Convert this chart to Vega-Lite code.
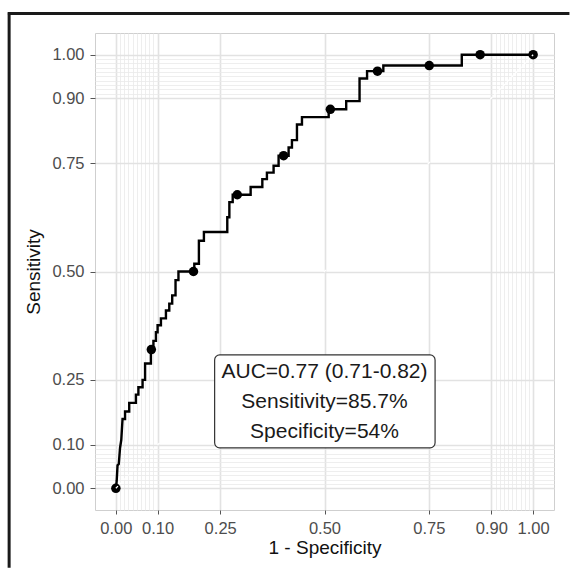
{
  "$schema": "https://vega.github.io/schema/vega-lite/v6.json",
  "width": 459,
  "height": 477,
  "autosize": {"type": "none"},
  "padding": {"left": 95, "top": 33, "right": 16, "bottom": 58},
  "background": "white",
  "config": {
    "view": {"stroke": "#CFCFCF", "strokeWidth": 1},
    "font": "Liberation Sans"
  },
  "resolve": {"axis": {"x": "independent", "y": "independent"}},
  "datasets": {
    "curve": [
      {"step": 1, "fpr": 0, "tpr": 0},
      {"step": 2, "fpr": 0.002, "tpr": 0.017},
      {"step": 3, "fpr": 0.004, "tpr": 0.053},
      {"step": 4, "fpr": 0.007, "tpr": 0.056},
      {"step": 5, "fpr": 0.010, "tpr": 0.093},
      {"step": 6, "fpr": 0.013, "tpr": 0.112},
      {"step": 7, "fpr": 0.016, "tpr": 0.16},
      {"step": 8, "fpr": 0.022, "tpr": 0.16},
      {"step": 9, "fpr": 0.022, "tpr": 0.177},
      {"step": 10, "fpr": 0.032, "tpr": 0.177},
      {"step": 11, "fpr": 0.032, "tpr": 0.197},
      {"step": 12, "fpr": 0.048, "tpr": 0.197},
      {"step": 13, "fpr": 0.048, "tpr": 0.216},
      {"step": 14, "fpr": 0.054, "tpr": 0.216},
      {"step": 15, "fpr": 0.054, "tpr": 0.233},
      {"step": 16, "fpr": 0.064, "tpr": 0.233},
      {"step": 17, "fpr": 0.064, "tpr": 0.25},
      {"step": 18, "fpr": 0.07, "tpr": 0.25},
      {"step": 19, "fpr": 0.07, "tpr": 0.288},
      {"step": 20, "fpr": 0.084, "tpr": 0.288},
      {"step": 21, "fpr": 0.084, "tpr": 0.32},
      {"step": 22, "fpr": 0.09, "tpr": 0.32},
      {"step": 23, "fpr": 0.09, "tpr": 0.34},
      {"step": 24, "fpr": 0.096, "tpr": 0.34},
      {"step": 25, "fpr": 0.096, "tpr": 0.36},
      {"step": 26, "fpr": 0.1, "tpr": 0.36},
      {"step": 27, "fpr": 0.1, "tpr": 0.376},
      {"step": 28, "fpr": 0.108, "tpr": 0.376},
      {"step": 29, "fpr": 0.108, "tpr": 0.392},
      {"step": 30, "fpr": 0.12, "tpr": 0.392},
      {"step": 31, "fpr": 0.12, "tpr": 0.41},
      {"step": 32, "fpr": 0.128, "tpr": 0.41},
      {"step": 33, "fpr": 0.128, "tpr": 0.426},
      {"step": 34, "fpr": 0.135, "tpr": 0.426},
      {"step": 35, "fpr": 0.135, "tpr": 0.445},
      {"step": 36, "fpr": 0.143, "tpr": 0.445},
      {"step": 37, "fpr": 0.143, "tpr": 0.48},
      {"step": 38, "fpr": 0.15, "tpr": 0.48},
      {"step": 39, "fpr": 0.15, "tpr": 0.5},
      {"step": 40, "fpr": 0.188, "tpr": 0.5},
      {"step": 41, "fpr": 0.188, "tpr": 0.518},
      {"step": 42, "fpr": 0.199, "tpr": 0.518},
      {"step": 43, "fpr": 0.199, "tpr": 0.571},
      {"step": 44, "fpr": 0.211, "tpr": 0.571},
      {"step": 45, "fpr": 0.211, "tpr": 0.591},
      {"step": 46, "fpr": 0.267, "tpr": 0.591},
      {"step": 47, "fpr": 0.267, "tpr": 0.625},
      {"step": 48, "fpr": 0.272, "tpr": 0.625},
      {"step": 49, "fpr": 0.272, "tpr": 0.66},
      {"step": 50, "fpr": 0.28, "tpr": 0.66},
      {"step": 51, "fpr": 0.28, "tpr": 0.677},
      {"step": 52, "fpr": 0.323, "tpr": 0.677},
      {"step": 53, "fpr": 0.323, "tpr": 0.695},
      {"step": 54, "fpr": 0.351, "tpr": 0.695},
      {"step": 55, "fpr": 0.351, "tpr": 0.713},
      {"step": 56, "fpr": 0.362, "tpr": 0.713},
      {"step": 57, "fpr": 0.362, "tpr": 0.728},
      {"step": 58, "fpr": 0.378, "tpr": 0.728},
      {"step": 59, "fpr": 0.378, "tpr": 0.744},
      {"step": 60, "fpr": 0.39, "tpr": 0.744},
      {"step": 61, "fpr": 0.39, "tpr": 0.767},
      {"step": 62, "fpr": 0.414, "tpr": 0.767},
      {"step": 63, "fpr": 0.414, "tpr": 0.786},
      {"step": 64, "fpr": 0.422, "tpr": 0.786},
      {"step": 65, "fpr": 0.422, "tpr": 0.803},
      {"step": 66, "fpr": 0.434, "tpr": 0.803},
      {"step": 67, "fpr": 0.434, "tpr": 0.839},
      {"step": 68, "fpr": 0.446, "tpr": 0.839},
      {"step": 69, "fpr": 0.446, "tpr": 0.856},
      {"step": 70, "fpr": 0.51, "tpr": 0.856},
      {"step": 71, "fpr": 0.51, "tpr": 0.874},
      {"step": 72, "fpr": 0.552, "tpr": 0.874},
      {"step": 73, "fpr": 0.552, "tpr": 0.893},
      {"step": 74, "fpr": 0.584, "tpr": 0.893},
      {"step": 75, "fpr": 0.584, "tpr": 0.945},
      {"step": 76, "fpr": 0.602, "tpr": 0.945},
      {"step": 77, "fpr": 0.602, "tpr": 0.962},
      {"step": 78, "fpr": 0.641, "tpr": 0.962},
      {"step": 79, "fpr": 0.641, "tpr": 0.975},
      {"step": 80, "fpr": 0.829, "tpr": 0.975},
      {"step": 81, "fpr": 0.829, "tpr": 1},
      {"step": 82, "fpr": 1, "tpr": 1}
    ],
    "cutoffs": [
      {"fpr": 0, "tpr": 0},
      {"fpr": 0.085, "tpr": 0.32},
      {"fpr": 0.186, "tpr": 0.5},
      {"fpr": 0.291, "tpr": 0.677},
      {"fpr": 0.402, "tpr": 0.767},
      {"fpr": 0.514, "tpr": 0.874},
      {"fpr": 0.627, "tpr": 0.962},
      {"fpr": 0.751, "tpr": 0.975},
      {"fpr": 0.873, "tpr": 1},
      {"fpr": 1, "tpr": 1}
    ],
    "annotation": [
      {"fpr": 0.5, "tpr": 0.2, "label": "AUC=0.77 (0.71-0.82)\nSensitivity=85.7%\nSpecificity=54%"}
    ],
    "one": [{"k": 1}]
  },
  "layer": [
    {
      "data": {"name": "curve"},
      "mark": {"type": "line", "color": "black", "strokeWidth": 2.4, "strokeJoin": "miter", "strokeCap": "butt"},
      "encoding": {
        "x": {
          "field": "fpr", "type": "quantitative",
          "scale": {"domain": [-0.05, 1.05], "nice": false, "zero": false},
          "axis": {
            "title": "1 - Specificity",
            "values": [0, 0.01, 0.02, 0.03, 0.04, 0.05, 0.06, 0.07, 0.08, 0.09, 0.1, 0.25, 0.5, 0.75, 0.9, 0.91, 0.92, 0.93, 0.94, 0.95, 0.96, 0.97, 0.98, 0.99, 1],
            "labelExpr": "indexof([0,10,25,50,75,90,100], round(datum.value*100)) >= 0 ? format(datum.value, '.2f') : ''",
            "labelOverlap": false, "labelFlush": false, "labelBound": false,
            "labelFontSize": 16.5, "labelColor": "#4D4D4D", "labelPadding": 6,
            "titleFontSize": 19, "titleColor": "#111111", "titleFontWeight": "normal", "titlePadding": 2,
            "domain": false,
            "tickColor": "#555555", "tickSize": 4, "tickWidth": 1,
            "tickOpacity": {"condition": {"test": "indexof([0,10,25,50,75,90,100], round(datum.value*100)) >= 0", "value": 1}, "value": 0},
            "gridColor": {"condition": {"test": "indexof([0,10,25,50,75,90,100], round(datum.value*100)) >= 0", "value": "#E2E2E2"}, "value": "#EAEAEA"},
            "gridWidth": {"condition": {"test": "indexof([0,10,25,50,75,90,100], round(datum.value*100)) >= 0", "value": 1.6}, "value": 0.8}
          }
        },
        "y": {
          "field": "tpr", "type": "quantitative",
          "scale": {"domain": [-0.05, 1.05], "nice": false, "zero": false},
          "axis": {
            "title": "Sensitivity",
            "values": [0, 0.01, 0.02, 0.03, 0.04, 0.05, 0.06, 0.07, 0.08, 0.09, 0.1, 0.25, 0.5, 0.75, 0.9, 0.91, 0.92, 0.93, 0.94, 0.95, 0.96, 0.97, 0.98, 0.99, 1],
            "labelExpr": "indexof([0,10,25,50,75,90,100], round(datum.value*100)) >= 0 ? format(datum.value, '.2f') : ''",
            "labelOverlap": false, "labelFlush": false, "labelBound": false,
            "labelFontSize": 16.5, "labelColor": "#4D4D4D", "labelPadding": 6,
            "titleFontSize": 19, "titleColor": "#111111", "titleFontWeight": "normal", "titlePadding": 8,
            "domain": false,
            "tickColor": "#555555", "tickSize": 5, "tickWidth": 1,
            "tickOpacity": {"condition": {"test": "indexof([0,10,25,50,75,90,100], round(datum.value*100)) >= 0", "value": 1}, "value": 0},
            "gridColor": {"condition": {"test": "indexof([0,10,25,50,75,90,100], round(datum.value*100)) >= 0", "value": "#E2E2E2"}, "value": "#EAEAEA"},
            "gridWidth": {"condition": {"test": "indexof([0,10,25,50,75,90,100], round(datum.value*100)) >= 0", "value": 1.6}, "value": 0.8}
          }
        },
        "order": {"field": "step", "type": "quantitative"}
      }
    },
    {
      "data": {"name": "cutoffs"},
      "mark": {"type": "point", "filled": true, "color": "black", "opacity": 1, "size": 90},
      "encoding": {
        "x": {"field": "fpr", "type": "quantitative", "scale": {"domain": [-0.05, 1.05], "nice": false, "zero": false}, "axis": null},
        "y": {"field": "tpr", "type": "quantitative", "scale": {"domain": [-0.05, 1.05], "nice": false, "zero": false}, "axis": null}
      }
    },
    {
      "data": {"name": "one"},
      "mark": {"type": "rule", "color": "white", "strokeWidth": 1.3, "strokeDash": [3, 3]},
      "encoding": {
        "x": {"datum": 0, "type": "quantitative", "scale": {"domain": [-0.05, 1.05], "nice": false, "zero": false}, "axis": null},
        "y": {"datum": 0, "type": "quantitative", "scale": {"domain": [-0.05, 1.05], "nice": false, "zero": false}, "axis": null},
        "x2": {"datum": 1},
        "y2": {"datum": 1}
      }
    },
    {
      "data": {"name": "one"},
      "mark": {"type": "rect", "fill": "white", "stroke": "#333333", "strokeWidth": 1.2, "cornerRadius": 5},
      "encoding": {
        "x": {"datum": 0.2367, "type": "quantitative", "scale": {"domain": [-0.05, 1.05], "nice": false, "zero": false}, "axis": null},
        "x2": {"datum": 0.765},
        "y": {"datum": 0.3076, "type": "quantitative", "scale": {"domain": [-0.05, 1.05], "nice": false, "zero": false}, "axis": null},
        "y2": {"datum": 0.0934}
      }
    },
    {
      "data": {"name": "annotation"},
      "mark": {"type": "text", "fontSize": 21, "color": "#1A1A1A", "align": "center", "baseline": "middle", "lineBreak": "\n", "lineHeight": 30, "dy": -30},
      "encoding": {
        "x": {"field": "fpr", "type": "quantitative", "scale": {"domain": [-0.05, 1.05], "nice": false, "zero": false}, "axis": null},
        "y": {"field": "tpr", "type": "quantitative", "scale": {"domain": [-0.05, 1.05], "nice": false, "zero": false}, "axis": null},
        "text": {"field": "label"}
      }
    },
    {
      "data": {"name": "one"},
      "mark": {"type": "rule", "stroke": "#1A1A1A", "strokeWidth": 3, "clip": false, "strokeCap": "butt"},
      "encoding": {
        "x": {"datum": -0.2558, "type": "quantitative", "scale": {"domain": [-0.05, 1.05], "nice": false, "zero": false}, "axis": null},
        "y": {"datum": 1.098, "type": "quantitative", "scale": {"domain": [-0.05, 1.05], "nice": false, "zero": false}, "axis": null},
        "y2": {"datum": -0.183}
      }
    },
    {
      "data": {"name": "one"},
      "mark": {"type": "rule", "stroke": "#1A1A1A", "strokeWidth": 3, "clip": false, "strokeCap": "butt"},
      "encoding": {
        "x": {"datum": -0.2588, "type": "quantitative", "scale": {"domain": [-0.05, 1.05], "nice": false, "zero": false}, "axis": null},
        "x2": {"datum": 1.087},
        "y": {"datum": 1.0948, "type": "quantitative", "scale": {"domain": [-0.05, 1.05], "nice": false, "zero": false}, "axis": null}
      }
    }
  ]
}
